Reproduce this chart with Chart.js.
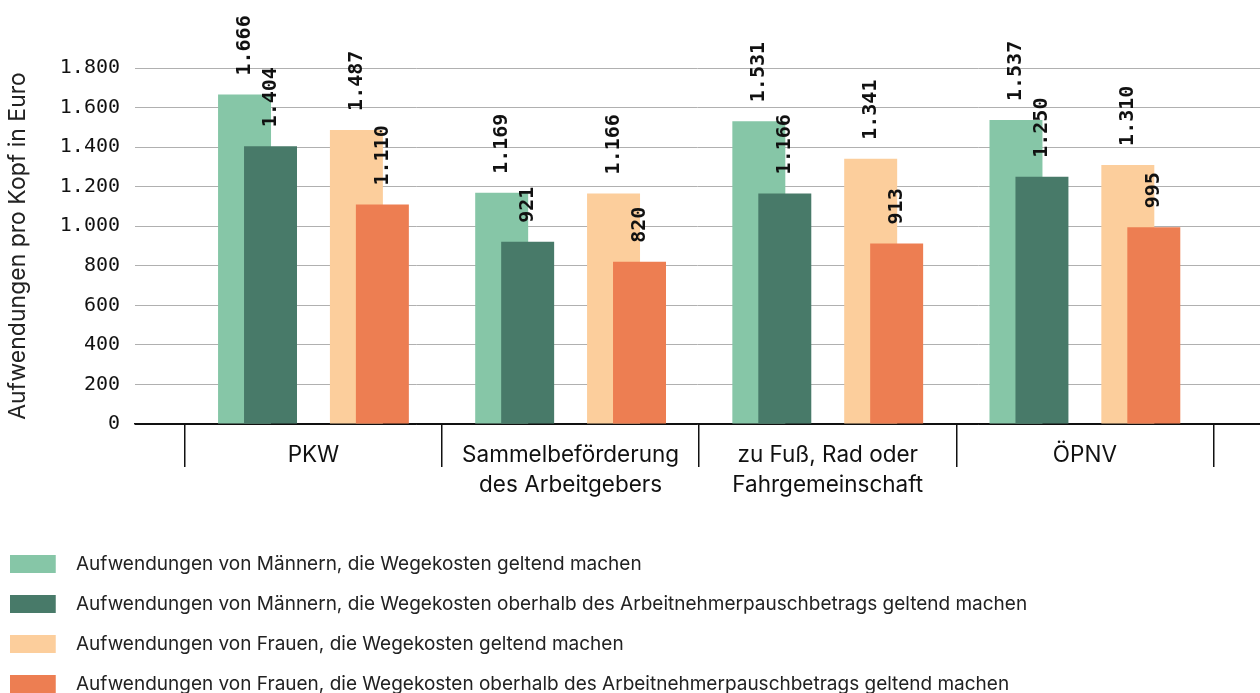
<!DOCTYPE html>
<html>
<head>
<meta charset="utf-8">
<script src="https://cdn.jsdelivr.net/npm/chart.js@4.4.1/dist/chart.umd.min.js"></script>
<style>
  html, body { margin: 0; padding: 0; background: #ffffff; overflow: hidden; }
  #wrap { width: 1260px; height: 693px; position: relative; }
</style>
</head>
<body>
<div id="wrap"><canvas id="chart"></canvas></div>
<script>
// ---------- data ----------
const CATEGORIES = ['PKW', 'Sammelbeförderung\ndes Arbeitgebers', 'zu Fuß, Rad oder\nFahrgemeinschaft', 'ÖPNV'];
const SERIES_LABELS = [
  'Aufwendungen von Männern, die Wegekosten geltend machen',
  'Aufwendungen von Männern, die Wegekosten oberhalb des Arbeitnehmerpauschbetrags geltend machen',
  'Aufwendungen von Frauen, die Wegekosten geltend machen',
  'Aufwendungen von Frauen, die Wegekosten oberhalb des Arbeitnehmerpauschbetrags geltend machen'
];
const MEN_ALL     = [1666, 1169, 1531, 1537];
const MEN_ABOVE   = [1404,  921, 1166, 1250];
const WOMEN_ALL   = [1487, 1166, 1341, 1310];
const WOMEN_ABOVE = [1110,  820,  913,  995];
const Y_TICKS = [0, 200, 400, 600, 800, 1000, 1200, 1400, 1600, 1800];

// ---------- styling / layout constants ----------
const COLORS = ['#86C6A7', '#487A69', '#FCCE9C', '#ED7E52'];
const ORDERS = [2, 1, 2, 1];                   // dark bars drawn in front
const SHIFTS = [-0.268, -0.167, 0.167, 0.268]; // bar offset from category centre (category units)
const X_MIN = -0.694, X_MAX = 3.681;
const LABEL_GAP = 19;
const MONO = '"DejaVu Sans Mono", "Liberation Mono", monospace';
const SANS = 'Inter, "Noto Sans", sans-serif';

Chart.defaults.font.family = SANS;

const fmt = v => String(v).replace(/\B(?=(\d{3})+(?!\d))/g, '.');
const setCategoryTicks = axis => { axis.ticks = CATEGORIES.map((_, i) => ({ value: i })); };

// invisible helper axis per series, shifted so each series sits at its own offset
function barAxis(shift) {
  return {
    type: 'linear', axis: 'x', position: 'bottom', display: true, bounds: 'data', offset: false,
    min: X_MIN - shift, max: X_MAX - shift,
    afterBuildTicks: setCategoryTicks,
    afterFit: s => { s.height = 0; },
    grid: { display: false, drawTicks: false },
    border: { display: false },
    ticks: { display: false }
  };
}

function legendSwatch(color) {
  const c = document.createElement('canvas');
  c.width = 68; c.height = 18;
  const g = c.getContext('2d');
  g.fillStyle = color;
  g.fillRect(0, 0, 46, 18);
  return c;
}

const SERIES = [MEN_ALL, MEN_ABOVE, WOMEN_ALL, WOMEN_ABOVE];
const datasets = SERIES.map((vals, s) => ({
  label: SERIES_LABELS[s],
  data: vals.map((y, i) => ({ x: i, y })),
  backgroundColor: COLORS[s],
  borderWidth: 0,
  order: ORDERS[s],
  xAxisID: 'x' + s,
  yAxisID: 'y',
  grouped: false,
  categoryPercentage: 1,
  barPercentage: 0.206
}));

const barLabels = {
  id: 'barLabels',
  afterDatasetsDraw(chart) {
    const ctx = chart.ctx;
    ctx.save();
    ctx.font = 'bold 20px ' + MONO;
    ctx.fillStyle = '#111111';
    ctx.textAlign = 'left';
    ctx.textBaseline = 'middle';
    chart.data.datasets.forEach((ds, di) => {
      const meta = chart.getDatasetMeta(di);
      meta.data.forEach((bar, i) => {
        ctx.save();
        ctx.translate(bar.x, bar.y - LABEL_GAP);
        ctx.rotate(-Math.PI / 2);
        ctx.fillText(fmt(ds.data[i].y), 0, 0);
        ctx.restore();
      });
    });
    ctx.restore();
  }
};

new Chart(document.getElementById('chart'), {
  type: 'bar',
  data: { datasets },
  plugins: [barLabels],
  options: {
    responsive: true,
    maintainAspectRatio: false,
    animation: false,
    events: [],
    layout: { padding: { top: 68, left: 0, right: 0, bottom: -10.5 } },
    scales: {
      x: {
        type: 'linear', position: 'bottom', bounds: 'data', offset: false,
        min: X_MIN, max: X_MAX,
        afterBuildTicks: setCategoryTicks,
        afterFit: s => { s.height = 109.5; },
        grid: { offset: true, drawOnChartArea: false, drawTicks: true, tickLength: 43, color: '#111111', lineWidth: 1.5 },
        border: { display: true, color: '#111111', width: 1.5 },
        ticks: {
          autoSkip: false, maxRotation: 0, minRotation: 0, padding: -26,
          color: '#111111',
          font: { family: SANS, size: 22.5, lineHeight: 1.3 },
          callback: (v, i) => CATEGORIES[i].split('\n')
        }
      },
      x0: barAxis(SHIFTS[0]),
      x1: barAxis(SHIFTS[1]),
      x2: barAxis(SHIFTS[2]),
      x3: barAxis(SHIFTS[3]),
      y: {
        type: 'linear', position: 'left', min: 0, max: 1800,
        afterBuildTicks: axis => { axis.ticks = Y_TICKS.map(v => ({ value: v })); },
        afterFit: s => { s.width = 135; },
        grid: {
          drawTicks: false, lineWidth: 1,
          color: c => (c.tick && c.tick.value === 0) ? '#111111' : '#b0b0b0'
        },
        border: { display: false },
        ticks: {
          padding: 15, color: '#111111',
          font: { family: MONO, size: 20 },
          callback: v => fmt(v)
        },
        title: {
          display: true, text: 'Aufwendungen pro Kopf in Euro',
          color: '#222222', font: { family: SANS, size: 23 },
          padding: { top: 4, bottom: 0 }
        }
      }
    },
    plugins: {
      tooltip: { enabled: false },
      legend: {
        position: 'bottom', align: 'start',
        labels: {
          usePointStyle: true, pointStyleWidth: 45.5, boxHeight: 19,
          padding: 21, color: '#222222',
          font: { family: SANS, size: 19 },
          generateLabels(chart) {
            const items = Chart.defaults.plugins.legend.labels.generateLabels(chart);
            return items
              .sort((a, b) => a.datasetIndex - b.datasetIndex)
              .map(it => Object.assign({}, it, { pointStyle: legendSwatch(COLORS[it.datasetIndex]), lineWidth: 0 }));
          }
        }
      }
    }
  }
});
</script>
</body>
</html>
